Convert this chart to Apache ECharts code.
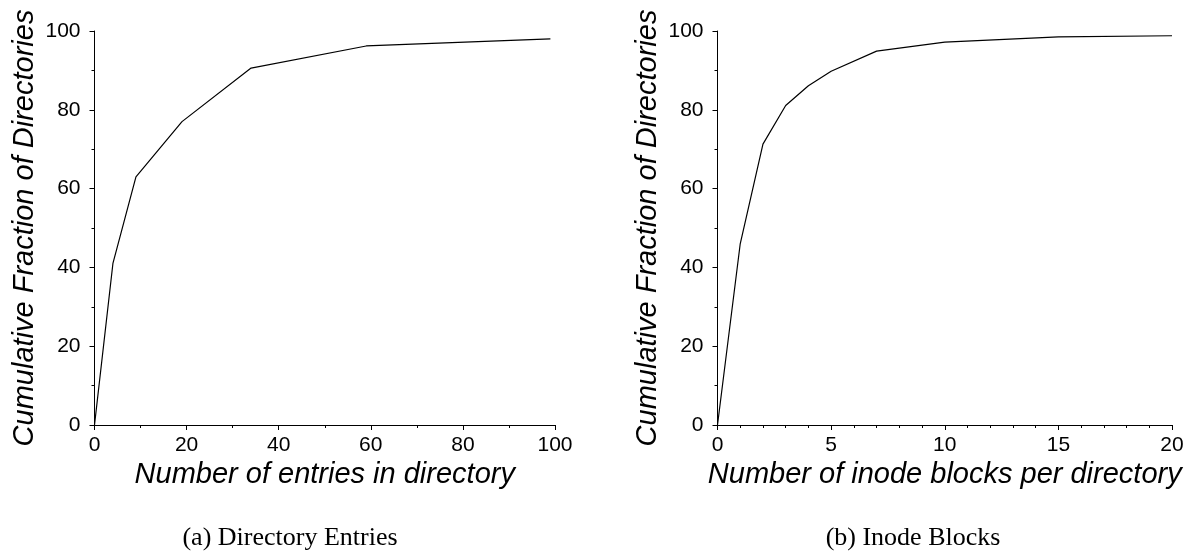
<!DOCTYPE html>
<html>
<head>
<meta charset="utf-8">
<script src="https://cdn.jsdelivr.net/npm/echarts@6/dist/echarts.min.js"></script>
<style>
html,body{margin:0;padding:0;background:#fff;}
#chart{width:1193px;height:552px;}
</style>
</head>
<body>
<div id="chart"></div>
<script>
// Panel (a): Directory Entries
const entriesX = [0, 4, 9, 19, 34, 59, 99];
const entriesY = [0, 41, 63, 77, 90.6, 96.2, 98];
// Panel (b): Inode Blocks
const inodeX = [0, 1, 2, 3, 4, 5, 7, 10, 15, 20];
const inodeY = [0, 46, 71.3, 81.1, 86.1, 89.8, 94.9, 97.2, 98.5, 98.8];

const yName = 'Cumulative Fraction of Directories';
const xNameA = 'Number of entries in directory';
const xNameB = 'Number of inode blocks per directory';
const captionA = '(a) Directory Entries';
const captionB = '(b) Inode Blocks';

const SANS = "'Liberation Sans', Arial, sans-serif";
const SERIF = "'Liberation Serif', 'Times New Roman', serif";

function xAxis(gridIndex, max, interval, minorSplit, name) {
  return {
    type: 'value', gridIndex, min: 0, max, interval,
    name, nameLocation: 'middle', nameGap: 34,
    nameTextStyle: { fontFamily: SANS, fontStyle: 'italic', fontSize: 29, color: '#000' },
    axisLine: { show: true, onZero: false, lineStyle: { color: '#000', width: 1 } },
    axisTick: { show: true, inside: false, length: 5, lineStyle: { color: '#000', width: 1 } },
    minorTick: { show: true, splitNumber: minorSplit, length: 3, lineStyle: { color: '#000', width: 1 } },
    splitLine: { show: false },
    axisLabel: { fontFamily: SANS, fontSize: 21, color: '#000', margin: 10 }
  };
}
function yAxis(gridIndex) {
  return {
    type: 'value', gridIndex, min: 0, max: 100, interval: 20,
    name: yName, nameLocation: 'middle', nameGap: 55, nameRotate: 90,
    nameTextStyle: { fontFamily: SANS, fontStyle: 'italic', fontSize: 29, color: '#000' },
    axisLine: { show: true, lineStyle: { color: '#000', width: 1 } },
    axisTick: { show: true, inside: false, length: 5, lineStyle: { color: '#000', width: 1 } },
    minorTick: { show: true, splitNumber: 2, length: 3, lineStyle: { color: '#000', width: 1 } },
    splitLine: { show: false },
    axisLabel: { fontFamily: SANS, fontSize: 21, color: '#000', margin: 14 }
  };
}

const chart = echarts.init(document.getElementById('chart'), null, { renderer: 'canvas' });
chart.setOption({
  backgroundColor: '#fff',
  animation: false,
  grid: [
    { left: 94.5, top: 31, width: 460.5, height: 394 },
    { left: 717.5, top: 31, width: 454.5, height: 394 }
  ],
  xAxis: [
    xAxis(0, 100, 20, 2, xNameA),
    xAxis(1, 20, 5, 5, xNameB)
  ],
  yAxis: [yAxis(0), yAxis(1)],
  series: [
    {
      type: 'line', xAxisIndex: 0, yAxisIndex: 0, showSymbol: false,
      lineStyle: { color: '#000', width: 1.2 },
      data: entriesX.map((x, i) => [x, entriesY[i]])
    },
    {
      type: 'line', xAxisIndex: 1, yAxisIndex: 1, showSymbol: false,
      lineStyle: { color: '#000', width: 1.2 },
      data: inodeX.map((x, i) => [x, inodeY[i]])
    }
  ],
  graphic: [
    { type: 'text', x: 290, y: 538, style: { text: captionA, font: '26px ' + SERIF, fill: '#000', textAlign: 'center', textVerticalAlign: 'middle' } },
    { type: 'text', x: 913, y: 538, style: { text: captionB, font: '26px ' + SERIF, fill: '#000', textAlign: 'center', textVerticalAlign: 'middle' } }
  ]
});
</script>
</body>
</html>
